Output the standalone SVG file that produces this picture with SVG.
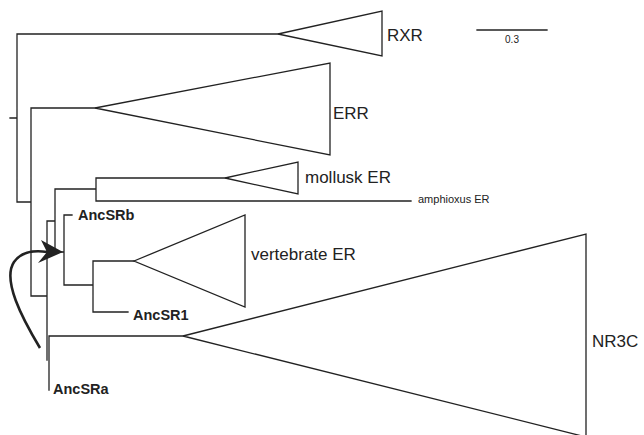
<svg xmlns="http://www.w3.org/2000/svg" width="644" height="435" viewBox="0 0 644 435">
<style>
.ln{fill:none;stroke:#222;stroke-width:1.3;stroke-linecap:square}
.tri{fill:none;stroke:#222;stroke-width:1.3;stroke-linejoin:miter}
.lab{font-family:"Liberation Sans",Arial,sans-serif;font-size:17px;fill:#222}
.small{font-family:"Liberation Sans",Arial,sans-serif;font-size:11px;fill:#222}
.anc{font-family:"Liberation Sans",Arial,sans-serif;font-size:14.5px;font-weight:bold;fill:#222}
.scale{font-family:"Liberation Sans",Arial,sans-serif;font-size:10px;fill:#222}
</style>
<rect width="644" height="435" fill="#fff"/>
<g id="connectors">
<path class="ln" d="M10 118 H17 M17 34 V202 M17 34 H278 M17 202 H31 M31 108 V296 M31 108 H95 M31 296 H47 M47 221 V360 M47 221 H55 M55 189 V252 M55 189 H96 M96 178 V201 M96 178 H225 M96 201 H411 M55 252 H64 M64 215 V285 M64 215 H72 M64 285 H93 M93 261 V312 M93 261 H134 M93 312 H128 M49 336 V390 M49 336 H183"/>
<path d="M40 348 C22 318 2 280 14 262 C21 252 33 250 47 252" fill="none" stroke="#222" stroke-width="2.6"/>
<polygon points="63,252 41,240 47,252 38,263" fill="#222"/>
</g>
<g id="RXR">
<polygon class="tri" points="278,34 382,11 382,56"/>
<text class="lab" x="387" y="41">RXR</text>
</g>
<g id="ERR">
<polygon class="tri" points="95,108 330,63 330,155"/>
<text class="lab" x="333" y="119">ERR</text>
</g>
<g id="molluskER">
<polygon class="tri" points="225,178 298,162 298,194"/>
<text class="lab" x="305" y="183">mollusk ER</text>
</g>
<g id="amphioxusER">
<text class="small" x="418" y="203">amphioxus ER</text>
</g>
<g id="vertebrateER">
<polygon class="tri" points="134,261 245,215 245,307"/>
<text class="lab" x="251" y="260">vertebrate ER</text>
</g>
<g id="NR3C">
<polygon class="tri" points="183,336 586,234 586,437"/>
<text class="lab" x="592" y="347">NR3C</text>
</g>
<g id="AncSRb"><text class="anc" x="78" y="220">AncSRb</text></g>
<g id="AncSR1"><text class="anc" x="133" y="320">AncSR1</text></g>
<g id="AncSRa"><text class="anc" x="53" y="394">AncSRa</text></g>
<g id="scalebar">
<line class="ln" x1="477" y1="30" x2="547" y2="30"/>
<text class="scale" x="512" y="43" text-anchor="middle">0.3</text>
</g>
</svg>
